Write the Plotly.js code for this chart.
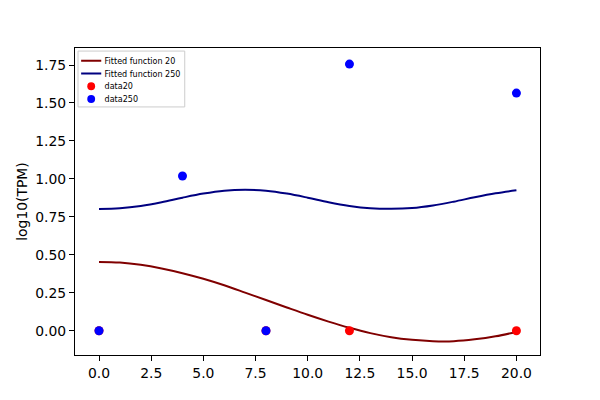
<!DOCTYPE html>
<html>
<head>
<meta charset="utf-8">
<script src="https://cdn.plot.ly/plotly-3.0.1.min.js"></script>
<style>
  html, body { margin: 0; padding: 0; background: white; }
  #chart { width: 600px; height: 400px; }
</style>
</head>
<body>
<div id="chart"></div>
<script>
// Fitted curves
const fitX = [0, 1, 2, 3, 4, 5, 6, 7, 8, 9, 10, 11, 12, 13, 14, 15, 16, 17, 18, 19, 20];
const fit20 = [0.453, 0.449, 0.434, 0.410, 0.379, 0.342, 0.299, 0.251, 0.202, 0.153, 0.105,
               0.060, 0.019, -0.016, -0.043, -0.060, -0.069, -0.069, -0.057, -0.037, -0.008];
const fit250 = [0.802, 0.807, 0.822, 0.846, 0.876, 0.903, 0.922, 0.928, 0.922, 0.903, 0.876,
                0.846, 0.822, 0.807, 0.803, 0.808, 0.825, 0.850, 0.879, 0.905, 0.925];

// Measured points
const data20X = [0, 8, 12, 20];
const data20Y = [0, 0, 0, 0];
const data250X = [0, 4, 8, 12, 20];
const data250Y = [0, 1.019, 0, 1.756, 1.565];

const font = 'DejaVu Sans, sans-serif';

const traces = [
    {
        x: fitX, y: fit20, type: 'scatter', mode: 'lines',
        name: 'Fitted function 20',
        line: { color: '#800000', width: 2, shape: 'spline' }
    },
    {
        x: fitX, y: fit250, type: 'scatter', mode: 'lines',
        name: 'Fitted function 250',
        line: { color: '#000080', width: 2, shape: 'spline' }
    },
    {
        x: data20X, y: data20Y, type: 'scatter', mode: 'markers',
        name: 'data20',
        marker: { color: '#ff0000', size: 9 }
    },
    {
        x: data250X, y: data250Y, type: 'scatter', mode: 'markers',
        name: 'data250',
        marker: { color: '#0000ff', size: 9 }
    }
];

const axisCommon = {
    showgrid: false,
    zeroline: false,
    showline: true,
    mirror: true,
    linecolor: 'black',
    linewidth: 1,
    ticks: 'outside',
    ticklen: 5,
    tickcolor: 'black',
    tickfont: { family: font, size: 13.9, color: '#000' }
};

const layout = {
    width: 600,
    height: 400,
    margin: { l: 75, r: 60, t: 48, b: 45 },
    paper_bgcolor: 'white',
    plot_bgcolor: 'white',
    showlegend: true,
    legend: {
        x: 0.006, y: 0.99, xanchor: 'left', yanchor: 'top',
        bgcolor: 'rgba(255,255,255,0)',
        borderwidth: 0,
        font: { family: font, size: 12, color: '#000' },
        tracegroupgap: 0
    },
    // frame round the shrunken legend
    shapes: [{
        type: 'rect', xref: 'paper', yref: 'paper', layer: 'above',
        x0: 0.0065, x1: 0.236, y0: 0.808, y1: 0.99,
        line: { color: '#cccccc', width: 1 },
        fillcolor: 'white'
    }],
    xaxis: Object.assign({}, axisCommon, {
        range: [-1.15, 21.13],
        tickvals: [0, 2.5, 5, 7.5, 10, 12.5, 15, 17.5, 20],
        ticktext: ['0.0', '2.5', '5.0', '7.5', '10.0', '12.5', '15.0', '17.5', '20.0']
    }),
    yaxis: Object.assign({}, axisCommon, {
        range: [-0.16, 1.862],
        tickvals: [0, 0.25, 0.5, 0.75, 1, 1.25, 1.5, 1.75],
        ticktext: ['0.00', '0.25', '0.50', '0.75', '1.00', '1.25', '1.50', '1.75'],
        title: { text: 'log10(TPM)', font: { family: font, size: 13.9, color: '#000' }, standoff: 4 }
    })
};

Plotly.newPlot('chart', traces, layout, { displayModeBar: false, staticPlot: true }).then(function(gd) {
    // shrink the legend so its rows sit as close as in the original
    const leg = gd.querySelector('.legend');
    if (!leg) return;
    const t = leg.getAttribute('transform') || '';
    leg.setAttribute('transform', t + ' scale(0.67)');
    leg.querySelectorAll('.legendpoints path.scatterpts').forEach(function(p) {
        const pt = p.getAttribute('transform') || '';
        p.setAttribute('transform', pt + ' scale(1.3)');
    });
    leg.querySelectorAll('.legendlines path').forEach(function(p) {
        p.style.strokeWidth = '3px';
    });
});
</script>
</body>
</html>
